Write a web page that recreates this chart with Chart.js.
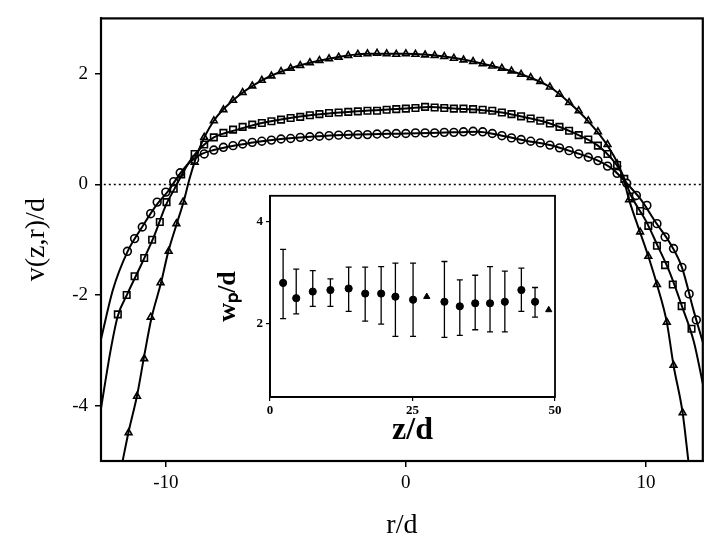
<!DOCTYPE html>
<html>
<head>
<meta charset="utf-8">
<script src="https://cdn.jsdelivr.net/npm/chart.js@4.4.1/dist/chart.umd.min.js"></script>
<style>
  body { margin: 0; background: #fff; }
  #wrap { position: relative; width: 709px; height: 540px; }
  #main { position: absolute; left: 0; top: 0; }
  #inset { position: absolute; left: 200px; top: 185px; }
</style>
</head>
<body>
<div id="wrap">
  <canvas id="main" width="709" height="540"></canvas>
  <canvas id="inset" width="370" height="270"></canvas>
</div>
<script>
// main plot: velocity profiles v(z,r)/d against r/d
const rTicks = [-10, 0, 10];
const vTicks = [-4, -2, 0, 2];

// markers on the flat part, shared r positions
const rPlateau = [-8.8, -8.4, -8.0, -7.6, -7.2, -6.8, -6.4, -6.0, -5.6, -5.2, -4.8, -4.4, -4.0, -3.6, -3.2,
  -2.8, -2.4, -2.0, -1.6, -1.2, -0.8, -0.4, 0, 0.4, 0.8, 1.2, 1.6, 2.0, 2.4, 2.8, 3.2, 3.6, 4.0, 4.4,
  4.8, 5.2, 5.6, 6.0, 6.4, 6.8, 7.2, 7.6, 8.0, 8.4, 8.8];
const vCircle = [0.45, 0.55, 0.62, 0.67, 0.70, 0.73, 0.76, 0.78, 0.80, 0.82, 0.83, 0.85, 0.86, 0.87, 0.88,
  0.89, 0.90, 0.90, 0.90, 0.91, 0.91, 0.92, 0.92, 0.93, 0.93, 0.93, 0.94, 0.94, 0.95, 0.96, 0.95, 0.92, 0.88, 0.84,
  0.81, 0.78, 0.75, 0.71, 0.66, 0.61, 0.55, 0.49, 0.43, 0.33, 0.20];
const vSquare = [0.55, 0.72, 0.85, 0.93, 0.99, 1.04, 1.08, 1.11, 1.14, 1.17, 1.20, 1.22, 1.25, 1.27, 1.29,
  1.30, 1.31, 1.32, 1.33, 1.33, 1.35, 1.36, 1.37, 1.38, 1.40, 1.39, 1.38, 1.37, 1.37, 1.36, 1.35, 1.33, 1.30, 1.27,
  1.23, 1.19, 1.15, 1.10, 1.04, 0.97, 0.89, 0.81, 0.70, 0.55, 0.35];
const vTriangle = [0.40, 0.85, 1.15, 1.35, 1.52, 1.66, 1.78, 1.88, 1.96, 2.04, 2.10, 2.15, 2.20, 2.24, 2.27,
  2.30, 2.33, 2.35, 2.36, 2.37, 2.36, 2.35, 2.36, 2.35, 2.34, 2.33, 2.31, 2.28, 2.25, 2.22, 2.18, 2.14, 2.10, 2.05,
  1.99, 1.93, 1.86, 1.76, 1.63, 1.48, 1.33, 1.15, 0.95, 0.72, 0.37];

// markers on the steep sides
const rCircleTail = [-11.6, -11.3, -10.98, -10.63, -10.36, -10.0, -9.67, -9.4, 9.2, 9.6, 10.04, 10.46, 10.8, 11.15, 11.5, 11.8, 12.1];
const vCircleTail = [-1.21, -0.98, -0.77, -0.53, -0.32, -0.14, 0.05, 0.21, 0.02, -0.2, -0.38, -0.71, -0.95, -1.16, -1.5, -1.98, -2.45];
const rSquareTail = [-12.0, -11.63, -11.3, -10.9, -10.57, -10.25, -9.97, -9.67, -9.36, 9.1, 9.42, 9.76, 10.1, 10.46, 10.8, 11.12, 11.49, 11.9];
const vSquareTail = [-2.35, -2.0, -1.66, -1.33, -1.0, -0.68, -0.32, -0.08, 0.18, 0.1, -0.22, -0.48, -0.75, -1.11, -1.46, -1.81, -2.2, -2.61];
const rTriangleTail = [-11.55, -11.2, -10.9, -10.63, -10.22, -9.88, -9.56, -9.28, 9.3, 9.76, 10.1, 10.46, 10.87, 11.15, 11.53];
const vTriangleTail = [-4.49, -3.83, -3.15, -2.4, -1.78, -1.21, -0.71, -0.32, -0.28, -0.86, -1.3, -1.81, -2.49, -3.27, -4.13];

// fitted curves
const rCircleFit = [-12.7, -12.2, -11.6, -11.0, -10.4, -9.9, -9.4, -9.0, -8.5, -8.0, -7.0, -6.0, -4.0, -2.0, 0, 2.0, 3.0,
  4.0, 5.0, 6.0, 7.0, 8.0, 8.6, 9.2, 9.8, 10.4, 11.0, 11.5, 12.0, 12.37];
const vCircleFit = [-2.8, -1.9, -1.22, -0.78, -0.38, -0.12, 0.2, 0.4, 0.55, 0.62, 0.71, 0.78, 0.86, 0.9, 0.92, 0.94, 0.95,
  0.88, 0.79, 0.71, 0.58, 0.43, 0.28, 0.02, -0.28, -0.68, -1.06, -1.5, -2.3, -2.85];
const rSquareFit = [-12.7, -12.3, -12.0, -11.6, -11.0, -10.5, -10.0, -9.6, -9.3, -9.0, -8.5, -8.0, -7.0, -6.0, -4.0, -2.0,
  0, 1.0, 2.0, 3.0, 4.0, 5.0, 6.0, 7.0, 8.0, 8.6, 9.0, 9.4, 10.0, 10.5, 11.0, 11.5, 12.0, 12.37];
const vSquareFit = [-4.05, -3.0, -2.38, -1.98, -1.43, -0.95, -0.38, -0.05, 0.2, 0.42, 0.68, 0.85, 0.99, 1.11, 1.25, 1.32,
  1.37, 1.4, 1.37, 1.35, 1.3, 1.21, 1.1, 0.93, 0.7, 0.45, 0.2, -0.22, -0.66, -1.12, -1.6, -2.2, -2.85, -3.6];
const rTriangleFit = [-11.8, -11.55, -11.2, -10.9, -10.6, -10.2, -9.9, -9.55, -9.25, -9.0, -8.6, -8.0, -7.2, -6.0, -4.8,
  -3.2, -1.6, 0, 1.6, 3.2, 4.8, 6.0, 6.8, 7.6, 8.4, 9.0, 9.3, 9.76, 10.1, 10.46, 10.87, 11.15, 11.53, 11.77];
const vTriangleFit = [-5.0, -4.47, -3.82, -3.1, -2.42, -1.78, -1.22, -0.72, -0.3, 0.12, 0.65, 1.15, 1.52, 1.88, 2.1,
  2.27, 2.36, 2.36, 2.31, 2.18, 1.99, 1.76, 1.48, 1.14, 0.7, 0.2, -0.28, -0.87, -1.3, -1.81, -2.49, -3.27, -4.13, -5.0];

// inset: w_p/d along z/d with error bars
const zTicks = [0, 25, 50];
const wTicks = [2, 4];
const zPos = [2.3, 4.6, 7.5, 10.6, 13.8, 16.7, 19.5, 22.0, 25.1, 27.5, 30.6, 33.3, 36.0, 38.6, 41.2, 44.1, 46.5, 48.9];
const wp = [2.79, 2.49, 2.62, 2.65, 2.68, 2.58, 2.58, 2.52, 2.46, 2.52, 2.42, 2.33, 2.39, 2.39, 2.42, 2.65, 2.42, 2.26];
const wpHi = [3.45, 3.06, 3.03, 2.87, 3.1, 3.1, 3.11, 3.18, 3.18, null, 3.21, 2.85, 2.94, 3.11, 3.02, 3.08, 2.7, null];
const wpLo = [2.09, 2.18, 2.33, 2.33, 2.23, 2.04, 1.98, 1.74, 1.74, null, 1.72, 1.76, 1.87, 1.83, 1.83, 2.23, 2.12, null];
const wpStyle = ['circle', 'circle', 'circle', 'circle', 'circle', 'circle', 'circle', 'circle', 'circle', 'triangle',
  'circle', 'circle', 'circle', 'circle', 'circle', 'circle', 'circle', 'triangle'];

const serif = 'Liberation Serif, Times New Roman, serif';
const pts = (xs, ys) => xs.map((x, i) => ({ x: x, y: ys[i] }));
const markers = (tx, ty, py) => {
  const out = pts(tx, ty).concat(pts(rPlateau, py));
  return out.sort((a, b) => a.x - b.x);
};

const frame = {
  id: 'frame',
  afterDraw(chart, args, opts) {
    const a = chart.chartArea, ctx = chart.ctx;
    ctx.save();
    ctx.strokeStyle = '#000';
    ctx.lineWidth = opts.width || 2;
    ctx.strokeRect(a.left, a.top, a.right - a.left, a.bottom - a.top);
    ctx.restore();
  }
};

const errorBars = {
  id: 'errorBars',
  beforeDatasetsDraw(chart) {
    const xs = chart.scales.x, ys = chart.scales.y, ctx = chart.ctx;
    ctx.save();
    ctx.strokeStyle = '#000';
    ctx.lineWidth = 1.3;
    zPos.forEach((z, i) => {
      if (wpHi[i] == null) return;
      const px = xs.getPixelForValue(z);
      const top = ys.getPixelForValue(wpHi[i]);
      const bot = ys.getPixelForValue(wpLo[i]);
      ctx.beginPath();
      ctx.moveTo(px, top); ctx.lineTo(px, bot);
      ctx.moveTo(px - 3, top); ctx.lineTo(px + 3, top);
      ctx.moveTo(px - 3, bot); ctx.lineTo(px + 3, bot);
      ctx.stroke();
    });
    ctx.restore();
  }
};

const fitLine = (data) => ({
  data: data, showLine: true, pointRadius: 0, borderColor: '#000', borderWidth: 2,
  cubicInterpolationMode: 'monotone'
});
const markerSet = (data, style) => ({
  data: data, showLine: false, pointStyle: style, pointRadius: style === 'rect' ? 4.6 : 3.9,
  borderColor: '#000', backgroundColor: '#fff', pointBorderWidth: 1.6
});

new Chart(document.getElementById('main'), {
  type: 'scatter',
  data: {
    datasets: [
      { data: [{ x: -13, y: 0 }, { x: 13, y: 0 }], showLine: true, pointRadius: 0,
        borderColor: '#000', borderWidth: 1.5, borderDash: [2, 3] },
      fitLine(pts(rCircleFit, vCircleFit)),
      fitLine(pts(rSquareFit, vSquareFit)),
      fitLine(pts(rTriangleFit, vTriangleFit)),
      markerSet(markers(rCircleTail, vCircleTail, vCircle), 'circle'),
      markerSet(markers(rSquareTail, vSquareTail, vSquare), 'rect'),
      markerSet(markers(rTriangleTail, vTriangleTail, vTriangle), 'triangle')
    ]
  },
  options: {
    responsive: false,
    animation: false,
    layout: { padding: { top: 11, right: 2, left: 0, bottom: 0 } },
    plugins: { legend: { display: false }, tooltip: { enabled: false }, frame: { width: 2.2 } },
    scales: {
      x: {
        type: 'linear', min: -12.7, max: 12.37,
        afterBuildTicks: s => { s.ticks = rTicks.map(v => ({ value: v })); },
        afterFit: s => { s.height = 79; },
        grid: { drawOnChartArea: false, tickLength: 6, color: '#000', lineWidth: 1.5 },
        border: { color: '#000', width: 2 },
        ticks: { color: '#000', font: { family: serif, size: 19 }, padding: 5, maxRotation: 0 },
        title: { display: true, text: 'r/d', color: '#000', font: { family: serif, size: 28, lineHeight: 1 },
          padding: { top: 0, bottom: 0 } }
      },
      y: {
        min: -5, max: 3,
        afterBuildTicks: s => { s.ticks = vTicks.map(v => ({ value: v })); },
        afterFit: s => { s.width = 101; },
        grid: { drawOnChartArea: false, tickLength: 6, color: '#000', lineWidth: 1.5 },
        border: { color: '#000', width: 2 },
        ticks: { color: '#000', font: { family: serif, size: 19 }, padding: 7 },
        title: { display: true, text: 'v(z,r)/d', color: '#000', font: { family: serif, size: 28, lineHeight: 1 },
          padding: { top: 23, bottom: 0 } }
      }
    }
  },
  plugins: [frame]
});

new Chart(document.getElementById('inset'), {
  type: 'scatter',
  data: {
    datasets: [{
      data: pts(zPos, wp), pointStyle: wpStyle, pointRadius: 3.6,
      backgroundColor: '#000', borderColor: '#000'
    }]
  },
  options: {
    responsive: false,
    animation: false,
    layout: { padding: { top: 8, right: 15, left: 0, bottom: 0 } },
    plugins: { legend: { display: false }, tooltip: { enabled: false }, frame: { width: 1.8 } },
    scales: {
      x: {
        type: 'linear', min: 0, max: 50,
        afterBuildTicks: s => { s.ticks = zTicks.map(v => ({ value: v })); },
        afterFit: s => { s.height = 58; },
        grid: { drawOnChartArea: false, tickLength: 4, color: '#000', lineWidth: 1.2 },
        border: { color: '#000', width: 1.8 },
        ticks: { color: '#000', font: { family: serif, size: 13, weight: 'bold' }, padding: 2, maxRotation: 0 },
        title: { display: true, text: 'z/d', color: '#000', font: { family: serif, size: 32, weight: 'bold', lineHeight: 1 },
          padding: { top: 0, bottom: 8 } }
      },
      y: {
        min: 0.55, max: 4.5,
        afterBuildTicks: s => { s.ticks = wTicks.map(v => ({ value: v })); },
        afterFit: s => { s.width = 70; },
        grid: { drawOnChartArea: false, tickLength: 4, color: '#000', lineWidth: 1.2 },
        border: { color: '#000', width: 1.8 },
        ticks: { color: '#000', font: { family: serif, size: 13, weight: 'bold' }, padding: 3 },
        title: { display: true, text: 'wₚ/d', color: '#000', font: { family: serif, size: 26, weight: 'bold', lineHeight: 1 },
          padding: { top: 15, bottom: 0 } }
      }
    }
  },
  plugins: [frame, errorBars]
});
</script>
</body>
</html>
